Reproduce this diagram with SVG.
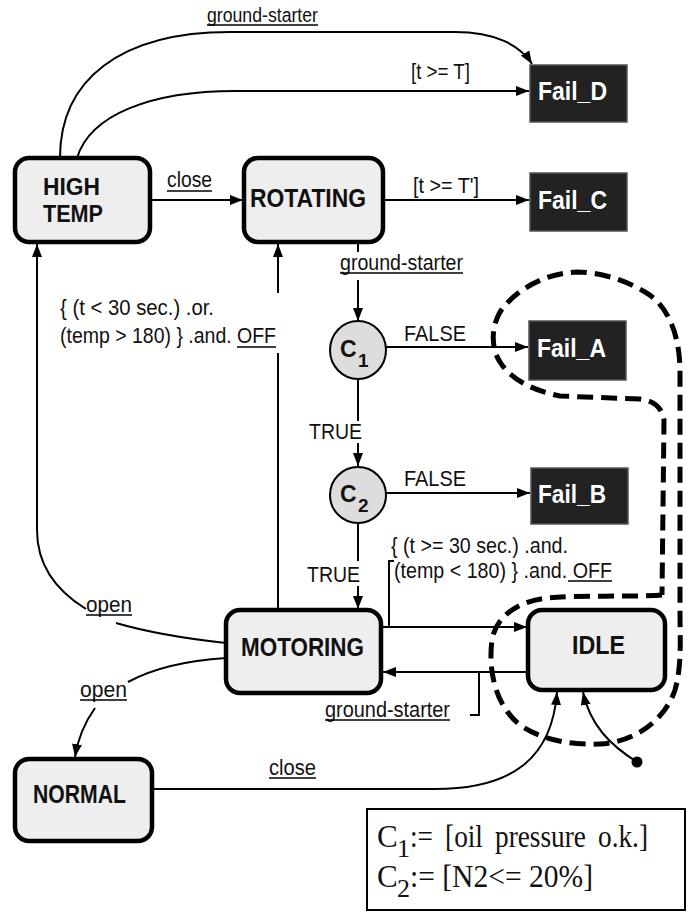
<svg xmlns="http://www.w3.org/2000/svg" width="689" height="912" viewBox="0 0 689 912">
<style>
.st{fill:#eeeeee;stroke:#000;stroke-width:4.5}
.fail{fill:#222222;stroke:#555;stroke-width:1.5}
.dec{fill:#dddddd;stroke:#000;stroke-width:2}
.sn{font-family:"Liberation Sans",Arial,sans-serif;font-weight:bold;font-size:26px;fill:#111}
.fn{font-family:"Liberation Sans",Arial,sans-serif;font-weight:bold;font-size:25px;fill:#fff}
.lb{font-family:"Liberation Sans",Arial,sans-serif;font-size:22px;fill:#111}
.cn{fill:none;stroke:#000;stroke-width:2}
.ul{stroke:#000;stroke-width:1.6}
.lg{font-family:"Liberation Serif","Times New Roman",serif;font-size:31px;fill:#111}
</style>
<defs>
<marker id="ah" markerUnits="userSpaceOnUse" markerWidth="13" markerHeight="10" refX="13" refY="5" orient="auto">
<path d="M0,0 L13,5 L0,10 z" fill="#000"/>
</marker>
</defs>
<rect width="689" height="912" fill="#fff"/>

<g id="connectors">
<path class="cn" d="M60,158 C60,80 120,32 230,32 L455,32 C495,32 520,45 532,64" marker-end="url(#ah)"/>
<path class="cn" d="M77,158 C90,115 150,91 236,91 L529,91" marker-end="url(#ah)"/>
<path class="cn" d="M150,200 L243,200" marker-end="url(#ah)"/>
<path class="cn" d="M383,200 L529,200" marker-end="url(#ah)"/>
<path class="cn" d="M358,242 L358,252"/>
<path class="cn" d="M358,280 L358,321" marker-end="url(#ah)"/>
<path class="cn" d="M386,347 L528,347" marker-end="url(#ah)"/>
<path class="cn" d="M358,379 L358,421"/>
<path class="cn" d="M358,443 L358,466" marker-end="url(#ah)"/>
<path class="cn" d="M386,493 L530,493" marker-end="url(#ah)"/>
<path class="cn" d="M358,523 L358,561"/>
<path class="cn" d="M358,586 L358,609" marker-end="url(#ah)"/>
<path class="cn" d="M278,610 L278,353"/>
<path class="cn" d="M278,293 L278,244" marker-end="url(#ah)"/>
<path class="cn" d="M226,643 C180,638 140,630 116,623"/>
<path class="cn" d="M86,609 C55,590 37,565 37,530 L37,244" marker-end="url(#ah)"/>
<path class="cn" d="M226,658 C180,661 150,670 128,682"/>
<path class="cn" d="M95,708 C85,722 78,738 75,757" marker-end="url(#ah)"/>
<path class="cn" d="M381,627 L527,627" marker-end="url(#ah)"/>
<path class="cn" d="M394,561 L389,561 L389,627"/>
<path class="cn" d="M528,672 L383,672" marker-end="url(#ah)"/>
<path class="cn" d="M479,672 L479,715 L470,715"/>
<path class="cn" d="M152,789 L435,789 C510,789 552,760 557,692" marker-end="url(#ah)"/>
<path class="cn" d="M637,762 C610,745 590,725 583,692" marker-end="url(#ah)"/>
<circle cx="637" cy="762" r="5.5" fill="#000"/>
<path fill="none" stroke="#000" stroke-width="5" stroke-dasharray="16 8" d="M662,595 C640,597 570,595 547,598 C520,601 496,615 492,640 C488,670 495,705 520,725 C545,742 575,745 600,744 C635,742 665,720 675,690 C682,665 680,640 680,613 L680,372 C680,335 668,305 645,292 C625,280 600,272 577,272 C545,273 515,290 500,312 C490,330 492,350 500,362 C510,378 530,390 560,396 L640,399 C655,401 662,408 664,420 L662,595"/>
</g>

<g id="labels">
<text class="lb" x="207" y="22" textLength="111" lengthAdjust="spacingAndGlyphs" style="font-size:20px">ground-starter</text>
<line class="ul" x1="207" y1="25" x2="318" y2="25"/>
<text class="lb" x="411" y="79" textLength="59" lengthAdjust="spacingAndGlyphs">[t &gt;= T]</text>
<text class="lb" x="167" y="187" textLength="45" lengthAdjust="spacingAndGlyphs">close</text>
<line class="ul" x1="167" y1="191" x2="212" y2="191"/>
<text class="lb" x="413" y="193" textLength="66" lengthAdjust="spacingAndGlyphs">[t &gt;= T']</text>
<text class="lb" x="340" y="270" textLength="123" lengthAdjust="spacingAndGlyphs">ground-starter</text>
<line class="ul" x1="340" y1="273" x2="463" y2="273"/>
<text class="lb" x="60" y="315" textLength="154" lengthAdjust="spacingAndGlyphs">{ (t &lt; 30 sec.) .or.</text>
<text class="lb" x="60" y="343" textLength="216" lengthAdjust="spacingAndGlyphs">(temp &gt; 180) } .and. OFF</text>
<line class="ul" x1="237" y1="347" x2="276" y2="347"/>
<text class="lb" x="404" y="341" textLength="62" lengthAdjust="spacingAndGlyphs">FALSE</text>
<text class="lb" x="309" y="439" textLength="53" lengthAdjust="spacingAndGlyphs">TRUE</text>
<text class="lb" x="404" y="486" textLength="62" lengthAdjust="spacingAndGlyphs">FALSE</text>
<text class="lb" x="307" y="582" textLength="53" lengthAdjust="spacingAndGlyphs">TRUE</text>
<text class="lb" x="391" y="553" textLength="177" lengthAdjust="spacingAndGlyphs">{ (t &gt;= 30 sec.) .and.</text>
<text class="lb" x="394" y="578" textLength="218" lengthAdjust="spacingAndGlyphs">(temp &lt; 180) } .and. OFF</text>
<line class="ul" x1="568" y1="581" x2="612" y2="581"/>
<text class="lb" x="86" y="612" textLength="46" lengthAdjust="spacingAndGlyphs">open</text>
<line class="ul" x1="86" y1="615" x2="132" y2="615"/>
<text class="lb" x="80" y="697" textLength="47" lengthAdjust="spacingAndGlyphs">open</text>
<line class="ul" x1="80" y1="700" x2="127" y2="700"/>
<text class="lb" x="325" y="717" textLength="125" lengthAdjust="spacingAndGlyphs">ground-starter</text>
<line class="ul" x1="325" y1="720" x2="450" y2="720"/>
<text class="lb" x="269" y="775" textLength="47" lengthAdjust="spacingAndGlyphs">close</text>
<line class="ul" x1="269" y1="778" x2="316" y2="778"/>
</g>

<g id="HIGH_TEMP">
<rect class="st" x="15" y="158" width="135" height="84" rx="14"/>
<text class="sn" x="43" y="195" textLength="57" lengthAdjust="spacingAndGlyphs" style="font-size:24px">HIGH</text>
<text class="sn" x="43" y="222" textLength="60" lengthAdjust="spacingAndGlyphs" style="font-size:24px">TEMP</text>
</g>
<g id="ROTATING">
<rect class="st" x="244" y="158" width="139" height="84" rx="14"/>
<text class="sn" x="250" y="207" textLength="116" lengthAdjust="spacingAndGlyphs">ROTATING</text>
</g>
<g id="MOTORING">
<rect class="st" x="226" y="610" width="155" height="83" rx="14"/>
<text class="sn" x="241" y="656" textLength="123" lengthAdjust="spacingAndGlyphs">MOTORING</text>
</g>
<g id="IDLE">
<rect class="st" x="528" y="610" width="137" height="80" rx="14"/>
<text class="sn" x="572" y="654" textLength="53" lengthAdjust="spacingAndGlyphs">IDLE</text>
</g>
<g id="NORMAL">
<rect class="st" x="15" y="759" width="137" height="82" rx="14"/>
<text class="sn" x="33" y="803" textLength="93" lengthAdjust="spacingAndGlyphs">NORMAL</text>
</g>
<g id="Fail_D">
<rect class="fail" x="530" y="65" width="97" height="57"/>
<text class="fn" x="538" y="100" textLength="69" lengthAdjust="spacingAndGlyphs">Fail_D</text>
</g>
<g id="Fail_C">
<rect class="fail" x="530" y="173" width="97" height="58"/>
<text class="fn" x="538" y="209" textLength="69" lengthAdjust="spacingAndGlyphs">Fail_C</text>
</g>
<g id="Fail_A">
<rect class="fail" x="529" y="321" width="97" height="59"/>
<text class="fn" x="537" y="357" textLength="69" lengthAdjust="spacingAndGlyphs">Fail_A</text>
</g>
<g id="Fail_B">
<rect class="fail" x="531" y="468" width="97" height="56"/>
<text class="fn" x="538" y="503" textLength="68" lengthAdjust="spacingAndGlyphs">Fail_B</text>
</g>
<g id="C1">
<ellipse class="dec" cx="358" cy="350" rx="28" ry="29"/>
<text class="sn" x="340" y="357" style="font-size:23px">C</text>
<text class="sn" x="358" y="367" style="font-size:19px">1</text>
</g>
<g id="C2">
<ellipse class="dec" cx="358" cy="495" rx="28" ry="28"/>
<text class="sn" x="340" y="502" style="font-size:23px">C</text>
<text class="sn" x="358" y="512" style="font-size:19px">2</text>
</g>
<g id="legend">
<rect x="367" y="809" width="318" height="101" fill="#fff" stroke="#000" stroke-width="2"/>
<text class="lg" x="377" y="847">C</text>
<text class="lg" x="397" y="857" style="font-size:26px">1</text>
<text class="lg" x="410" y="847" textLength="238" lengthAdjust="spacingAndGlyphs" style="word-spacing:6px">:= [oil pressure o.k.]</text>
<text class="lg" x="377" y="887">C</text>
<text class="lg" x="397" y="897" style="font-size:26px">2</text>
<text class="lg" x="410" y="887" textLength="183" lengthAdjust="spacingAndGlyphs">:= [N2&lt;= 20%]</text>
</g>
</svg>
